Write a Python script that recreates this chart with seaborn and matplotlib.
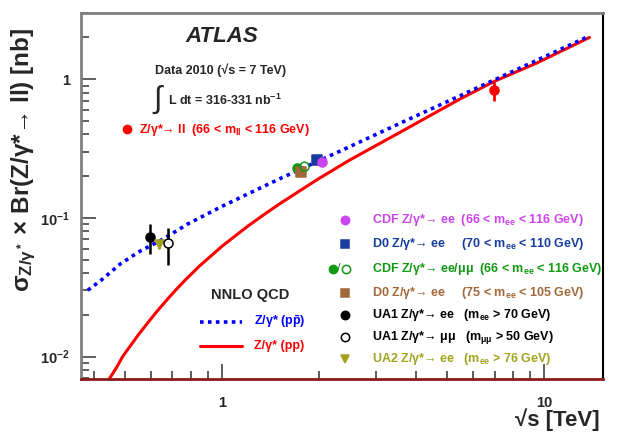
import numpy as np
import pandas as pd
import matplotlib
matplotlib.use('Agg')
import matplotlib.pyplot as plt
from matplotlib.ticker import LogLocator, NullFormatter
import seaborn as sns

# NNLO QCD predictions (sqrt(s) in TeV, sigma x Br in nb)
ppbar_sqrts = [0.382, 0.42, 0.481, 0.55, 0.65, 0.782, 1.0, 1.51, 2.32, 3.5, 5.47, 9.48, 13.8]
ppbar_sigma = [0.0301, 0.0355, 0.0464, 0.0569, 0.0697, 0.0906, 0.1216, 0.192, 0.303, 0.472, 0.760, 1.37, 2.05]
pp_sqrts = [0.44, 0.47, 0.49, 0.55, 0.62, 0.68, 0.72, 0.77, 0.85, 1.0, 1.2, 1.37, 1.5, 1.74, 2.0,
            2.49, 3.5, 5.47, 7.0, 9.48, 13.8]
pp_sigma = [0.0066, 0.0084, 0.0100, 0.0145, 0.0206, 0.0264, 0.0306, 0.0360, 0.0451, 0.0628, 0.0873,
            0.1087, 0.1255, 0.157, 0.193, 0.262, 0.405, 0.72, 0.966, 1.31, 2.0]

# measurements
atlas_x, atlas_y, atlas_lo, atlas_hi = 6.98, 0.83, 0.13, 0.13
cdf2_x, cdf2_y = 2.04, 0.252          # CDF Run II ee
d0b_x, d0b_y = 1.97, 0.263            # D0 Run II ee
cdf1e_x, cdf1e_y = 1.70, 0.229        # CDF Run I ee
cdf1m_x, cdf1m_y = 1.80, 0.234        # CDF Run I mumu
d0a_x, d0a_y = 1.75, 0.216            # D0 Run I ee
ua1e_x, ua1e_y, ua1e_lo, ua1e_hi = 0.596, 0.0728, 0.018, 0.017
ua1m_x, ua1m_y, ua1m_lo, ua1m_hi = 0.676, 0.0656, 0.020, 0.019
ua2_x, ua2_y, ua2_err = 0.635, 0.0645, 0.005

legend_labels = [
    r'CDF Z/γ*→ ee  (66 < m$_{ee}$ < 116 GeV)',
    r'D0 Z/γ*→ ee     (70 < m$_{ee}$ < 110 GeV)',
    r'CDF Z/γ*→ ee/μμ  (66 < m$_{ee}$ < 116 GeV)',
    r'D0 Z/γ*→ ee     (75 < m$_{ee}$ < 105 GeV)',
    r'UA1 Z/γ*→ ee   (m$_{ee}$ > 70 GeV)',
    r'UA1 Z/γ*→ μμ   (m$_{μμ}$ > 50 GeV)',
    r'UA2 Z/γ*→ ee   (m$_{ee}$ > 76 GeV)',
]

RED = '#ff0000'
BLUE = '#0000ff'
MAG = '#cc44ee'
NAVY = '#163c9c'
GREEN = '#119911'
BROWN = '#a0693a'
OLIVE = '#a3a31e'

sns.set_style('ticks')
plt.rcParams['font.family'] = ['Liberation Sans', 'DejaVu Sans']
plt.rcParams['mathtext.fontset'] = 'custom'
plt.rcParams['mathtext.rm'] = 'Liberation Sans'
plt.rcParams['mathtext.bf'] = 'Liberation Sans:bold'
plt.rcParams['mathtext.it'] = 'Liberation Sans:italic'
plt.rcParams['mathtext.default'] = 'bf'

W, H = 623, 441
fig = plt.figure(figsize=(W / 100, H / 100), dpi=100)
ax = fig.add_axes([81 / W, 1 - 379 / H, (603 - 81) / W, (379 - 13) / H])


def fp(x, y):
    return x / W, 1 - y / H


# theory curves
df_ppbar = pd.DataFrame({'sqrts': ppbar_sqrts, 'sigma': ppbar_sigma})
df_pp = pd.DataFrame({'sqrts': pp_sqrts, 'sigma': pp_sigma})
sns.lineplot(data=df_pp, x='sqrts', y='sigma', ax=ax, color=RED, lw=2.2,
             sort=False, estimator=None)
sns.lineplot(data=df_ppbar, x='sqrts', y='sigma', ax=ax, color=BLUE, lw=2.6,
             linestyle=(0, (1, 1.2)), sort=False, estimator=None)

# error bars
ax.errorbar([atlas_x], [atlas_y], yerr=[[atlas_lo], [atlas_hi]], fmt='none', ecolor=RED, elinewidth=2, zorder=4)
ax.errorbar([ua1e_x], [ua1e_y], yerr=[[ua1e_lo], [ua1e_hi]], fmt='none', ecolor='black', elinewidth=1.8, zorder=4)
ax.errorbar([ua1m_x], [ua1m_y], yerr=[[ua1m_lo], [ua1m_hi]], fmt='none', ecolor='black', elinewidth=1.8, zorder=4)
ax.errorbar([ua2_x], [ua2_y], yerr=[[ua2_err], [ua2_err]], fmt='none', ecolor=OLIVE, elinewidth=1.8, zorder=4)

# points
pts = [
    (atlas_x, atlas_y, 'o', RED, RED),
    (cdf1e_x, cdf1e_y, 'o', GREEN, GREEN),
    (d0a_x, d0a_y, 's', BROWN, BROWN),
    (cdf1m_x, cdf1m_y, 'o', 'none', GREEN),
    (d0b_x, d0b_y, 's', NAVY, NAVY),
    (cdf2_x, cdf2_y, 'o', MAG, MAG),
    (ua1e_x, ua1e_y, 'o', 'black', 'black'),
    (ua2_x, ua2_y, 'v', OLIVE, OLIVE),
    (ua1m_x, ua1m_y, 'o', 'white', 'black'),
]
for x, y, m, fc, ec in pts:
    sns.scatterplot(x=[x], y=[y], ax=ax, marker=m, s=42, facecolor=fc,
                    edgecolor=ec, linewidth=1.1, zorder=5)

ax.set_xscale('log')
ax.set_yscale('log')
ax.set_xlim(0.364, 15.2)
ax.set_ylim(0.0069, 3.0)
ax.set_xlabel('')
ax.set_ylabel('')

ax.set_xticks([1, 10], labels=['1', '10'], fontsize=10.5, fontweight='bold')
ax.set_yticks([0.01, 0.1, 1], labels=[r'10$^{-2}$', r'10$^{-1}$', '1'], fontsize=10.5, fontweight='bold')
ax.xaxis.set_minor_locator(LogLocator(base=10, subs=np.arange(2, 10)))
ax.yaxis.set_minor_locator(LogLocator(base=10, subs=np.arange(2, 10)))
ax.xaxis.set_minor_formatter(NullFormatter())
ax.yaxis.set_minor_formatter(NullFormatter())
ax.tick_params(which='both', bottom=True, left=True, top=False, right=False)
ax.tick_params(which='major', direction='in', length=11, width=1.2, color='#444444')
ax.tick_params(axis='x', which='major', pad=12)
ax.tick_params(axis='y', which='major', pad=8)
ax.tick_params(which='minor', direction='in', length=6, width=1.2, color='#444444')
for side in ['left', 'top']:
    ax.spines[side].set_color('#808080')
    ax.spines[side].set_linewidth(2)
ax.spines['bottom'].set_color('#8b1a1a')
ax.spines['bottom'].set_linewidth(2)
ax.spines['right'].set_color('black')
ax.spines['right'].set_linewidth(1.5)

# axis titles
fig.text(*fp(600, 420), '√s [TeV]', ha='right', va='center', fontsize=16, fontweight='bold')
fig.text(*fp(24, 160), r'σ$_{Z/γ^*}$ × Br(Z/γ*→ ll) [nb]', rotation=90, ha='center', va='center',
         fontsize=17.5, fontweight='bold')

# annotations
fig.text(*fp(222, 37), 'ATLAS', ha='center', va='center', fontsize=16, fontweight='bold', style='italic')
fig.text(*fp(221, 70), 'Data 2010 (√s = 7 TeV)', ha='center', va='center', fontsize=9, fontweight='bold')
fig.text(*fp(153, 100), '∫', ha='left', va='center', fontsize=22)
fig.text(*fp(168, 100), r'L dt = 316-331 nb$^{-1}$', ha='left', va='center', fontsize=9, fontweight='bold')
ax.plot(*fp(127, 129), 'o', color=RED, ms=6, transform=fig.transFigure, clip_on=False)
fig.text(*fp(139, 130), r'Z/γ*→ ll  (66 < m$_{ll}$ < 116 GeV)', ha='left', va='center', fontsize=9,
         fontweight='bold', color=RED)

# theory legend
fig.text(*fp(250, 295), 'NNLO QCD', ha='center', va='center', fontsize=10.5, fontweight='bold')
ax.plot([200 / W, 242 / W], [1 - 322 / H] * 2, color=BLUE, lw=2.6, linestyle=(0, (1, 1.2)),
        transform=fig.transFigure, clip_on=False)
fig.text(*fp(254, 322), r'Z/γ* (p$\bar{p}$)', ha='left', va='center', fontsize=9, fontweight='bold', color=BLUE)
ax.plot([200 / W, 242 / W], [1 - 346 / H] * 2, color=RED, lw=2.2, transform=fig.transFigure, clip_on=False)
fig.text(*fp(254, 346), 'Z/γ* (pp)', ha='left', va='center', fontsize=9, fontweight='bold', color=RED)

# measurement legend
rows_y = [220, 244, 269, 293, 315, 337, 359]
row_marker = [('o', MAG, MAG), ('s', NAVY, NAVY), None, ('s', BROWN, BROWN),
              ('o', 'black', 'black'), ('o', 'white', 'black'), ('v', OLIVE, OLIVE)]
row_color = [MAG, NAVY, GREEN, BROWN, 'black', 'black', OLIVE]
for yy, mk, col, lab in zip(rows_y, row_marker, row_color, legend_labels):
    if mk is None:
        ax.plot(*fp(333, yy), 'o', color=GREEN, ms=6, transform=fig.transFigure, clip_on=False)
        fig.text(*fp(337, yy), '/', ha='left', va='center', fontsize=9, color=GREEN)
        ax.plot(*fp(346, yy), 'o', mfc='white', mec=GREEN, ms=6, mew=1.1, transform=fig.transFigure, clip_on=False)
    else:
        m, fc, ec = mk
        ax.plot(*fp(345, yy), m, mfc=fc, mec=ec, ms=6, mew=1.1, transform=fig.transFigure, clip_on=False)
    fig.text(*fp(372, yy), lab, ha='left', va='center', fontsize=9, fontweight='bold', color=col)

fig.savefig('out.png', dpi=100)
